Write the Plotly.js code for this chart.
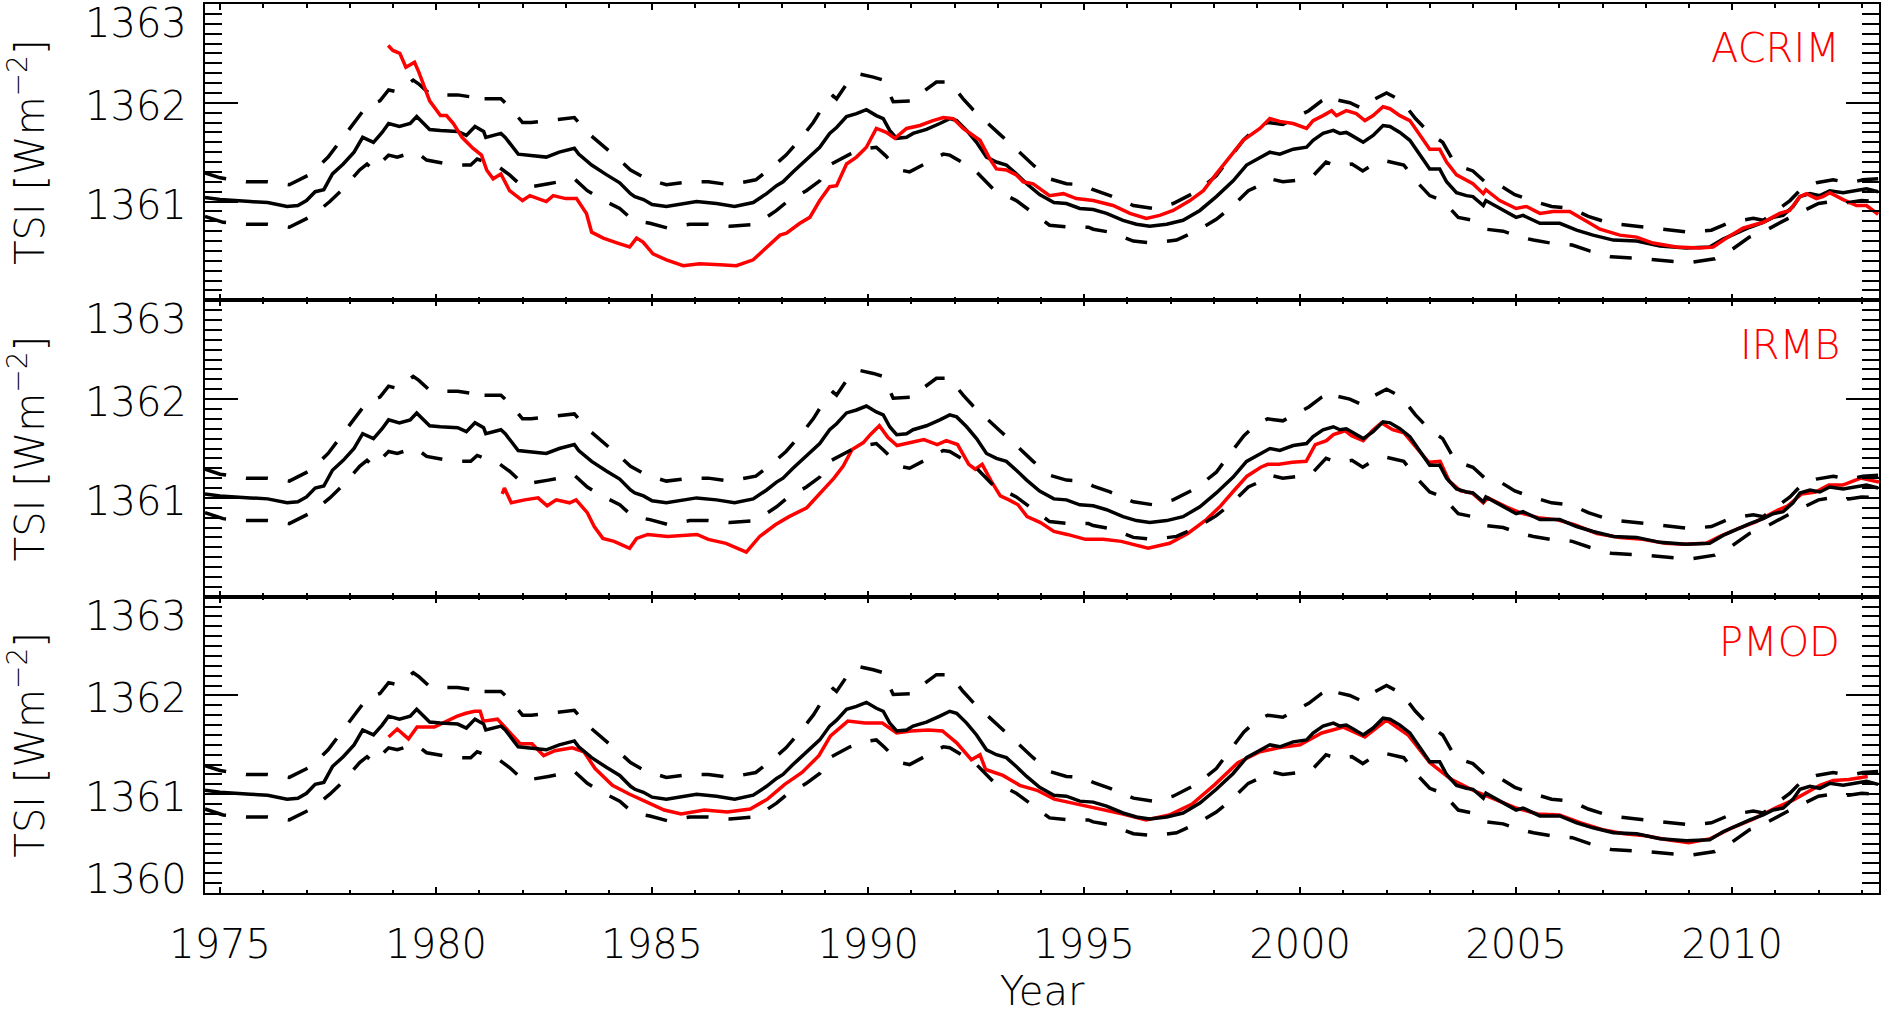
<!DOCTYPE html>
<html>
<head>
<meta charset="utf-8">
<script src="https://cdn.plot.ly/plotly-3.0.1.min.js"></script>
<style>
  html, body { margin: 0; padding: 0; background: #fff; }
  #chart { width: 1884px; height: 1014px; }
</style>
</head>
<body>
<div id="chart"></div>
<script>
// model reconstruction (black) and its uncertainty band (dashed), same in all panels
const modelYears = [1974.65,1975.0,1975.7,1976.1,1976.55,1976.8,1977.0,1977.2,1977.4,1977.6,1977.85,1978.1,1978.3,1978.55,1978.75,1978.9,1979.15,1979.4,1979.55,1979.7,1979.85,1980.1,1980.5,1980.7,1980.9,1981.1,1981.15,1981.5,1981.6,1981.9,1982.1,1982.55,1982.85,1983.2,1983.3,1983.6,1983.95,1984.25,1984.5,1984.6,1984.8,1985.0,1985.33,1985.64,1986.03,1986.49,1986.91,1987.34,1987.65,1987.88,1988.03,1988.26,1988.57,1988.88,1989.11,1989.27,1989.5,1989.73,1989.96,1990.19,1990.35,1990.5,1990.66,1990.89,1991.04,1991.35,1991.66,1991.89,1992.05,1992.28,1992.51,1992.74,1992.97,1993.2,1993.43,1993.67,1993.97,1994.2,1994.3,1994.59,1994.9,1995.21,1995.52,1995.9,1996.21,1996.52,1996.91,1997.29,1997.68,1998.06,1998.45,1998.76,1999.07,1999.3,1999.53,1999.84,2000.15,2000.3,2000.53,2000.77,2000.92,2001.07,2001.23,2001.46,2001.69,2001.92,2002.08,2002.31,2002.54,2002.77,2003.0,2003.23,2003.39,2003.62,2003.85,2004.0,2004.24,2004.3,2004.62,2005.0,2005.16,2005.55,2006.01,2006.4,2006.78,2007.25,2007.79,2008.33,2008.94,2009.48,2009.79,2010.1,2010.41,2010.72,2010.95,2011.18,2011.41,2011.57,2011.8,2012.03,2012.26,2012.57,2012.88,2013.11,2013.38];
const modelTSI = [1361.04,1361.02,1361.00,1360.99,1360.95,1360.96,1361.01,1361.10,1361.12,1361.28,1361.38,1361.50,1361.65,1361.60,1361.70,1361.79,1361.76,1361.79,1361.86,1361.79,1361.73,1361.72,1361.71,1361.67,1361.76,1361.71,1361.65,1361.69,1361.65,1361.48,1361.47,1361.45,1361.50,1361.54,1361.48,1361.37,1361.27,1361.19,1361.08,1361.05,1361.02,1360.97,1360.95,1360.97,1361.00,1360.98,1360.95,1360.99,1361.08,1361.16,1361.20,1361.30,1361.42,1361.55,1361.69,1361.75,1361.86,1361.89,1361.93,1361.87,1361.84,1361.72,1361.64,1361.65,1361.69,1361.73,1361.79,1361.84,1361.82,1361.72,1361.60,1361.45,1361.40,1361.37,1361.28,1361.18,1361.07,1361.01,1360.99,1360.98,1360.93,1360.92,1360.88,1360.81,1360.77,1360.75,1360.77,1360.81,1360.91,1361.05,1361.21,1361.37,1361.45,1361.50,1361.48,1361.53,1361.55,1361.62,1361.69,1361.72,1361.69,1361.70,1361.66,1361.60,1361.67,1361.77,1361.76,1361.70,1361.62,1361.48,1361.33,1361.33,1361.20,1361.09,1361.06,1361.05,1360.96,1361.01,1360.93,1360.84,1360.86,1360.78,1360.78,1360.71,1360.66,1360.61,1360.60,1360.55,1360.53,1360.54,1360.62,1360.68,1360.74,1360.79,1360.84,1360.86,1360.95,1361.05,1361.08,1361.06,1361.11,1361.09,1361.11,1361.13,1361.10];

const upperYears = [1974.65,1975.0,1975.6,1976.1,1976.6,1977.1,1977.5,1977.8,1978.1,1978.4,1978.7,1978.9,1979.1,1979.47,1979.6,1979.85,1980.1,1980.5,1980.8,1980.95,1981.1,1981.5,1981.7,1982.0,1982.2,1982.6,1983.2,1983.5,1983.8,1984.25,1984.5,1984.87,1985.33,1985.87,1986.3,1986.8,1987.4,1987.84,1988.1,1988.46,1988.73,1989.0,1989.19,1989.27,1989.58,1989.81,1990.12,1990.35,1990.58,1990.89,1991.08,1991.27,1991.58,1991.89,1992.2,1992.43,1992.74,1993.05,1993.43,1993.82,1994.2,1994.59,1994.98,1995.21,1995.6,1996.14,1996.6,1997.06,1997.6,1998.06,1998.35,1998.7,1999.0,1999.25,1999.6,1999.9,2000.2,2000.5,2000.75,2000.85,2001.15,2001.45,2001.65,2002.0,2002.35,2002.67,2003.0,2003.3,2003.6,2004.0,2004.3,2004.6,2004.97,2005.36,2005.82,2006.28,2006.67,2007.17,2007.94,2008.48,2009.02,2009.52,2009.95,2010.49,2010.72,2011.34,2011.65,2011.95,2012.34,2012.72,2013.03,2013.38];
const upperTSI = [1361.29,1361.24,1361.20,1361.20,1361.17,1361.28,1361.45,1361.62,1361.80,1361.97,1362.02,1362.13,1362.11,1362.23,1362.19,1362.09,1362.08,1362.08,1362.06,1362.11,1362.04,1362.04,1361.96,1361.80,1361.80,1361.82,1361.85,1361.70,1361.59,1361.42,1361.32,1361.23,1361.17,1361.20,1361.20,1361.17,1361.22,1361.37,1361.47,1361.65,1361.80,1361.99,1362.07,1362.04,1362.24,1362.29,1362.26,1362.23,1362.01,1362.02,1362.02,1362.11,1362.21,1362.21,1362.04,1361.93,1361.80,1361.68,1361.53,1361.37,1361.23,1361.18,1361.17,1361.12,1361.06,1360.96,1360.93,1360.98,1361.10,1361.26,1361.43,1361.63,1361.75,1361.80,1361.78,1361.85,1361.92,1362.02,1362.08,1362.03,1362.00,1361.94,1362.02,1362.10,1362.02,1361.84,1361.69,1361.60,1361.37,1361.31,1361.19,1361.17,1361.07,1361.01,1360.95,1360.93,1360.85,1360.78,1360.74,1360.71,1360.69,1360.71,1360.79,1360.83,1360.81,1361.01,1361.15,1361.19,1361.22,1361.19,1361.22,1361.23];

const lowerYears = [1974.65,1975.07,1975.6,1976.1,1976.6,1977.15,1977.54,1977.85,1978.23,1978.4,1978.55,1978.77,1978.9,1979.1,1979.47,1979.6,1979.78,1980.16,1980.5,1980.8,1980.95,1981.45,1981.7,1982.05,1982.2,1982.6,1983.2,1983.5,1983.8,1984.25,1984.56,1984.95,1985.37,1985.87,1986.3,1986.8,1987.4,1987.88,1988.1,1988.57,1988.88,1989.11,1989.58,1989.88,1990.19,1990.39,1990.73,1990.96,1991.27,1991.74,1991.89,1992.28,1992.51,1992.89,1993.43,1993.82,1994.2,1994.67,1995.1,1995.21,1995.6,1996.14,1996.6,1997.14,1997.64,1998.06,1998.4,1998.8,1999.15,1999.3,1999.6,2000.0,2000.3,2000.6,2000.85,2001.2,2001.45,2001.7,2002.0,2002.4,2002.7,2003.0,2003.3,2003.66,2004.0,2004.3,2004.7,2005.1,2005.4,2005.8,2006.3,2006.7,2007.2,2008.0,2008.5,2009.0,2009.6,2009.95,2010.4,2010.7,2011.3,2012.0,2012.3,2012.7,2013.0,2013.38];
const lowerTSI = [1360.85,1360.79,1360.77,1360.77,1360.74,1360.86,1361.00,1361.13,1361.32,1361.38,1361.32,1361.42,1361.47,1361.45,1361.50,1361.48,1361.42,1361.39,1361.37,1361.37,1361.43,1361.35,1361.27,1361.13,1361.15,1361.18,1361.23,1361.11,1361.03,1360.93,1360.81,1360.78,1360.73,1360.77,1360.77,1360.75,1360.77,1360.91,1360.99,1361.11,1361.21,1361.37,1361.48,1361.53,1361.55,1361.47,1361.32,1361.30,1361.37,1361.48,1361.47,1361.37,1361.30,1361.13,1361.01,1360.88,1360.76,1360.74,1360.74,1360.72,1360.69,1360.60,1360.58,1360.61,1360.71,1360.82,1360.94,1361.11,1361.18,1361.23,1361.20,1361.22,1361.26,1361.40,1361.36,1361.38,1361.31,1361.38,1361.41,1361.37,1361.20,1361.06,1361.01,1360.84,1360.81,1360.72,1360.70,1360.64,1360.61,1360.58,1360.56,1360.50,1360.44,1360.42,1360.40,1360.38,1360.42,1360.50,1360.64,1360.69,1360.83,1360.98,1361.00,1360.99,1361.01,1361.00];

// observational composites (red)
const acrimYears = [1978.89,1979.0,1979.16,1979.3,1979.5,1979.6,1979.85,1980.1,1980.24,1980.4,1980.6,1980.85,1981.05,1981.17,1981.32,1981.5,1981.7,1982.0,1982.17,1982.55,1982.71,1983.0,1983.25,1983.48,1983.6,1983.87,1984.2,1984.48,1984.64,1984.79,1985.02,1985.33,1985.72,1986.1,1986.57,1986.95,1987.34,1987.65,1987.96,1988.11,1988.42,1988.65,1988.88,1989.11,1989.27,1989.5,1989.73,1989.96,1990.19,1990.42,1990.62,1990.89,1991.2,1991.5,1991.74,1991.97,1992.2,1992.59,1992.82,1992.97,1993.2,1993.43,1993.59,1993.82,1993.98,1994.2,1994.52,1994.82,1995.21,1995.67,1996.06,1996.44,1996.75,1997.06,1997.45,1997.76,1998.06,1998.37,1998.68,1999.07,1999.3,1999.53,1999.84,2000.15,2000.3,2000.53,2000.73,2000.84,2001.07,2001.3,2001.5,2001.69,2001.92,2002.08,2002.31,2002.54,2002.77,2003.0,2003.23,2003.39,2003.62,2004.0,2004.24,2004.3,2004.62,2005.0,2005.24,2005.55,2005.86,2006.24,2006.63,2006.94,2007.4,2007.79,2008.17,2008.71,2009.25,2009.56,2009.87,2010.25,2010.72,2011.1,2011.33,2011.57,2011.72,2011.95,2012.1,2012.26,2012.57,2012.88,2013.11,2013.38];
const acrimTSI = [1362.58,1362.53,1362.50,1362.36,1362.41,1362.31,1362.02,1361.87,1361.87,1361.79,1361.65,1361.54,1361.47,1361.32,1361.23,1361.28,1361.11,1361.01,1361.06,1361.00,1361.06,1361.03,1361.03,1360.88,1360.69,1360.63,1360.58,1360.54,1360.63,1360.59,1360.47,1360.41,1360.35,1360.37,1360.36,1360.35,1360.41,1360.54,1360.66,1360.68,1360.78,1360.84,1361.01,1361.15,1361.16,1361.38,1361.45,1361.55,1361.74,1361.70,1361.64,1361.74,1361.77,1361.82,1361.85,1361.84,1361.74,1361.62,1361.43,1361.33,1361.32,1361.27,1361.20,1361.18,1361.13,1361.06,1361.08,1361.03,1361.01,1360.96,1360.88,1360.83,1360.86,1360.91,1361.01,1361.11,1361.28,1361.45,1361.62,1361.74,1361.84,1361.81,1361.79,1361.74,1361.82,1361.87,1361.92,1361.87,1361.92,1361.89,1361.82,1361.87,1361.96,1361.94,1361.87,1361.82,1361.67,1361.53,1361.53,1361.40,1361.27,1361.18,1361.08,1361.12,1361.01,1360.93,1360.95,1360.88,1360.90,1360.90,1360.80,1360.72,1360.66,1360.64,1360.58,1360.54,1360.53,1360.54,1360.63,1360.73,1360.79,1360.88,1360.91,1361.05,1361.08,1361.03,1361.05,1361.09,1361.02,1360.96,1360.96,1360.87];

const irmbYears = [1981.53,1981.58,1981.74,1982.05,1982.36,1982.57,1982.78,1983.09,1983.24,1983.5,1983.66,1983.86,1984.12,1984.48,1984.64,1984.9,1985.36,1986.04,1986.3,1986.71,1987.18,1987.49,1987.86,1988.17,1988.58,1988.9,1989.21,1989.42,1989.63,1989.89,1990.05,1990.26,1990.46,1990.67,1990.98,1991.29,1991.6,1991.81,1992.07,1992.33,1992.48,1992.64,1992.85,1993.06,1993.26,1993.47,1993.68,1993.99,1994.3,1994.61,1995.03,1995.44,1995.86,1996.48,1996.98,1997.4,1997.83,1998.14,1998.46,1998.77,1999.09,1999.25,1999.51,1999.82,2000.14,2000.35,2000.61,2000.77,2001.04,2001.19,2001.46,2001.67,2001.88,2002.14,2002.4,2002.72,2002.98,2003.24,2003.45,2003.72,2003.98,2004.24,2004.35,2004.77,2005.09,2005.51,2005.93,2006.35,2006.87,2007.4,2007.93,2008.45,2008.87,2009.4,2009.72,2010.14,2010.56,2010.98,2011.29,2011.61,2011.93,2012.24,2012.56,2012.98,2013.4];
const irmbTSI = [1361.04,1361.10,1360.95,1360.98,1361.00,1360.92,1360.98,1360.95,1360.98,1360.85,1360.71,1360.59,1360.56,1360.49,1360.59,1360.63,1360.61,1360.63,1360.58,1360.54,1360.45,1360.61,1360.73,1360.81,1360.90,1361.05,1361.20,1361.32,1361.49,1361.56,1361.64,1361.73,1361.61,1361.53,1361.56,1361.59,1361.54,1361.58,1361.54,1361.34,1361.29,1361.34,1361.17,1361.02,1360.98,1360.93,1360.81,1360.75,1360.66,1360.63,1360.58,1360.58,1360.56,1360.49,1360.54,1360.64,1360.78,1360.91,1361.07,1361.22,1361.31,1361.34,1361.34,1361.36,1361.37,1361.54,1361.58,1361.64,1361.68,1361.63,1361.58,1361.68,1361.76,1361.69,1361.66,1361.49,1361.36,1361.37,1361.17,1361.07,1361.05,1360.95,1361.00,1360.91,1360.85,1360.80,1360.78,1360.73,1360.64,1360.60,1360.58,1360.54,1360.53,1360.54,1360.61,1360.69,1360.76,1360.86,1360.92,1361.04,1361.06,1361.13,1361.13,1361.20,1361.16];

const pmodYears = [1978.9,1979.1,1979.36,1979.56,1979.96,1980.23,1980.49,1980.69,1980.89,1981.02,1981.09,1981.42,1981.69,1981.95,1982.22,1982.49,1982.75,1983.15,1983.42,1983.68,1984.08,1984.48,1984.88,1985.28,1985.67,1986.21,1986.74,1987.27,1987.67,1988.07,1988.47,1988.86,1989.13,1989.53,1989.93,1990.33,1990.66,1990.99,1991.39,1991.72,1992.05,1992.39,1992.59,1992.72,1993.12,1993.51,1993.91,1994.31,1994.84,1995.37,1995.9,1996.43,1996.97,1997.5,1998.03,1998.56,1999.07,1999.5,2000.0,2000.5,2001.0,2001.5,2002.0,2002.5,2003.0,2003.5,2004.0,2004.5,2005.0,2005.5,2006.0,2006.5,2007.0,2007.5,2008.0,2008.5,2009.0,2009.5,2010.0,2010.5,2011.0,2011.41,2012.03,2012.34,2012.7,2013.14];
const pmodTSI = [1361.58,1361.66,1361.56,1361.68,1361.68,1361.74,1361.79,1361.82,1361.84,1361.84,1361.74,1361.76,1361.63,1361.51,1361.51,1361.39,1361.44,1361.47,1361.43,1361.26,1361.09,1361.00,1360.92,1360.84,1360.80,1360.84,1360.82,1360.85,1360.95,1361.10,1361.22,1361.39,1361.59,1361.74,1361.72,1361.72,1361.62,1361.64,1361.65,1361.64,1361.52,1361.35,1361.40,1361.25,1361.19,1361.09,1361.04,1360.95,1360.90,1360.85,1360.80,1360.74,1360.79,1360.90,1361.10,1361.32,1361.43,1361.47,1361.50,1361.62,1361.68,1361.58,1361.75,1361.60,1361.32,1361.15,1361.04,1360.95,1360.86,1360.80,1360.79,1360.71,1360.64,1360.60,1360.58,1360.54,1360.51,1360.55,1360.66,1360.75,1360.86,1360.94,1361.09,1361.14,1361.15,1361.18];

const panelNames = ['ACRIM', 'IRMB', 'PMOD'];
const panelRed = [[acrimYears, acrimTSI], [irmbYears, irmbTSI], [pmodYears, pmodTSI]];

const RED = '#ff0000';
const FONT = 'DejaVu Sans, Liberation Sans, sans-serif';
const LW = 3.5;

function modelTraces(ax, ay) {
  const dash = { color: 'black', width: LW, dash: '22px,20px' };
  return [
    { x: upperYears, y: upperTSI, xaxis: ax, yaxis: ay, mode: 'lines', line: dash, hoverinfo: 'skip' },
    { x: lowerYears, y: lowerTSI, xaxis: ax, yaxis: ay, mode: 'lines', line: dash, hoverinfo: 'skip' },
    { x: modelYears, y: modelTSI, xaxis: ax, yaxis: ay, mode: 'lines', line: { color: 'black', width: LW } }
  ];
}

const data = [];
const annotations = [];
const layout = {
  width: 1884, height: 1014,
  margin: { l: 205, r: 5, t: 3.5, b: 120.7 },
  paper_bgcolor: 'white', plot_bgcolor: 'white',
  showlegend: false,
  font: { family: FONT, size: 40, color: 'black', weight: 200 }
};

for (let i = 0; i < 3; i++) {
  const sfx = i === 0 ? '' : String(i + 1);
  const ax = 'x' + sfx, ay = 'y' + sfx;
  const red = { x: panelRed[i][0], y: panelRed[i][1], xaxis: ax, yaxis: ay, mode: 'lines', line: { color: RED, width: LW } };
  // ACRIM is drawn over the model, the other two under it
  if (i === 0) { data.push(...modelTraces(ax, ay), red); }
  else { data.push(red, ...modelTraces(ax, ay)); }

  const top = 1 - i / 3, bottom = 1 - (i + 1) / 3;
  layout['xaxis' + sfx] = {
    anchor: ay, range: [1974.65, 2013.4],
    showgrid: false, zeroline: false,
    showline: true, linecolor: 'black', linewidth: 2, mirror: 'ticks',
    ticks: 'inside', ticklen: 6, tickwidth: 2, tickcolor: 'black',
    tickmode: 'linear', tick0: 1975, dtick: 5,
    minor: { ticks: 'inside', ticklen: 3.5, tickwidth: 2, tickcolor: 'black', dtick: 1, tick0: 1975, showgrid: false },
    showticklabels: i === 2,
    ticklabelstandoff: 15,
    tickfont: { family: FONT, size: 40, weight: 200 }
  };
  if (i === 2) layout['xaxis' + sfx].title = { text: 'Year', standoff: 37, font: { family: FONT, size: 40, weight: 200 } };

  layout['yaxis' + sfx] = {
    anchor: ax, domain: [bottom, top], range: [1360, 1363],
    showgrid: false, zeroline: false,
    showline: true, linecolor: 'black', linewidth: 2, mirror: 'ticks',
    ticks: 'inside', ticklen: 33, tickwidth: 2, tickcolor: 'black',
    tickmode: 'linear', tick0: 1360, dtick: 1,
    minor: { ticks: 'inside', ticklen: 17, tickwidth: 2, tickcolor: 'black', dtick: 0.1, tick0: 1360, showgrid: false },
    showticklabels: false,
    title: { text: 'TSI [Wm<sup>\u22122</sup>]', standoff: 146, font: { family: FONT, size: 40, weight: 200 } }
  };

  // tick labels: IDL pulls the end labels inside the axis range
  const labels = i === 2 ? [1360, 1361, 1362, 1363] : [1361, 1362, 1363];
  for (const v of labels) {
    let shift = -3;
    if (v === 1363) shift = -19;
    if (v === 1360) shift = 14;
    annotations.push({
      xref: 'paper', yref: ay, x: 0, y: v, xanchor: 'right', yanchor: 'middle',
      xshift: -16, yshift: shift, text: String(v), showarrow: false,
      font: { family: FONT, size: 40, color: 'black', weight: 200 }
    });
  }
  annotations.push({
    xref: 'paper', yref: 'paper', x: 0.978, y: [0.95, 0.6162, 0.2824][i],
    xanchor: 'right', yanchor: 'middle', text: panelNames[i], showarrow: false,
    font: { family: FONT, size: 40, color: RED, weight: 200 }
  });
}
layout.annotations = annotations;

Plotly.newPlot('chart', data, layout, { staticPlot: true });
</script>
</body>
</html>
